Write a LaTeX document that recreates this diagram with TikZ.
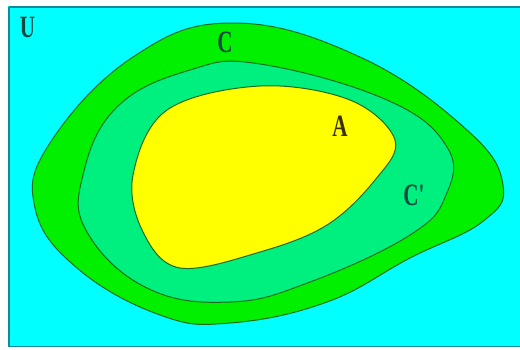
\documentclass[tikz,border=0pt]{standalone}
\usepackage{fontspec}
\setmainfont{Liberation Serif}
\definecolor{bgcyan}{HTML}{00FFFF}
\definecolor{frameteal}{HTML}{108A96}
\definecolor{outgreen}{HTML}{00F000}
\definecolor{midgreen}{HTML}{00F080}
\definecolor{inyellow}{HTML}{FFFF00}
\definecolor{edgegreen}{HTML}{1E6A1E}
\definecolor{labteal}{HTML}{0A4A40}
\definecolor{labdark}{HTML}{3A3010}
\newcommand{\narrowlab}[1]{\scalebox{0.68}[1]{#1}}
\tikzset{
  region/.style={draw=edgegreen, line width=1pt},
  lab/.style={font=\fontsize{31}{31}\selectfont\bfseries, text=labteal, inner sep=0pt},
}
\begin{document}
\begin{tikzpicture}[x=1pt,y=-1pt]
\useasboundingbox (0,0) rectangle (520,349);
\fill[white] (0,0) rectangle (520,349);
\fill[bgcyan] (8,6) rectangle (520,347);
\draw[frameteal, line width=1.6pt] (8.8,6.8) -- (520,6.8);
\draw[frameteal, line width=1.6pt] (8.8,6.8) -- (8.8,346.5) -- (520,346.5);
% outer region C
\filldraw[region, fill=outgreen] plot[smooth cycle, tension=0.7] coordinates {
  (233,23) (360,57) (467,130) (503,185) (482,222) (410,258) (327,302)
  (230,323) (160,315) (77,268) (35,208) (50,143) (133,57)};
% middle region C'
\filldraw[region, fill=midgreen] plot[smooth cycle, tension=0.7] coordinates {
  (260,64) (387,100) (447,147) (446,195) (410,235) (310,282) (230,302)
  (147,288) (87,232) (83,175) (117,107) (190,70)};
% inner region A
\filldraw[region, fill=inyellow] plot[smooth cycle, tension=0.6] coordinates {
  (260,86) (350,100) (395,140) (375,180) (327,225) (260,252) (180,268)
  (143,232) (133,175) (167,110)};
\node[lab] (u) at (27.5,27) {\narrowlab{U}};
\node[lab] (c) at (225,42) {\narrowlab{C}};
\node[lab, text=labdark] (a) at (340,126) {\narrowlab{A}};
\node[lab] (cp) at (414,195) {\narrowlab{C\textquotesingle}};
\end{tikzpicture}
\end{document}
